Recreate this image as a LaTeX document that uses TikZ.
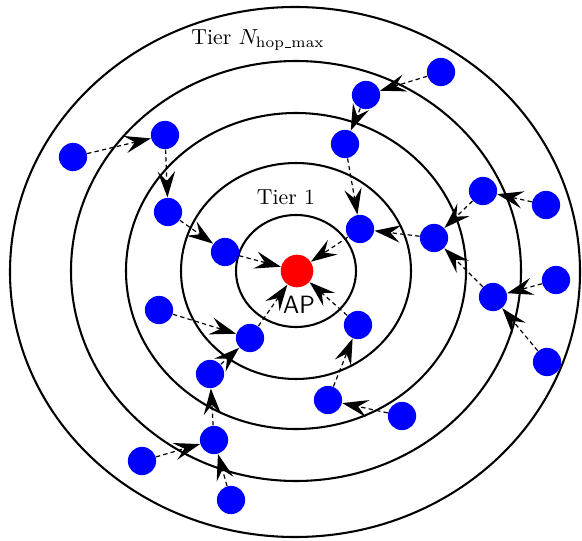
\documentclass[tikz,border=0pt]{standalone}
\usetikzlibrary{arrows.meta}
\begin{document}
\begin{tikzpicture}[x=0.46pt,y=-0.46pt,
  ring/.style={draw,line width=0.95pt},
  user/.style={circle,fill=blue,minimum size=13pt,inner sep=0pt},
  apnode/.style={circle,fill=red,minimum size=15pt,inner sep=0pt},
  link/.style={dash pattern=on 2pt off 1.5pt,line width=0.55pt,-{Stealth[length=12pt,width=8pt,inset=4.5pt]}}]
\useasboundingbox (0,0) rectangle (582,541);
\draw[ring] (296,271) ellipse [x radius=60,y radius=56];
\draw[ring] (296,271) ellipse [x radius=115,y radius=108];
\draw[ring] (296,271) ellipse [x radius=170,y radius=158];
\draw[ring] (296,271) ellipse [x radius=225,y radius=210];
\draw[ring] (295,272) ellipse [x radius=285,y radius=265];
\node at (286,197) {Tier 1};
\node at (258,40) {Tier $N_{\mbox{\scriptsize hop\kern.05em\rule[-.05ex]{.4em}{.05em}\kern.05em max}}$};
\node[apnode] (ap) at (297,271) {};
\node[font=\sffamily\fontsize{11.5}{13}\selectfont] (aplabel) at (299,305) {AP};
\node[user] (n1) at (225,252) {};
\node[user] (n2) at (360,229) {};
\node[user] (n3) at (250,338) {};
\node[user] (n4) at (358,325) {};
\node[user] (n5) at (168,212) {};
\node[user] (n6) at (345,144) {};
\node[user] (n7) at (434,238) {};
\node[user] (n8) at (159,310) {};
\node[user] (n9) at (210,374) {};
\node[user] (n10) at (328,400) {};
\node[user] (n11) at (165,135) {};
\node[user] (n12) at (366,95) {};
\node[user] (n13) at (483,191) {};
\node[user] (n14) at (493,297) {};
\node[user] (n15) at (214,440) {};
\node[user] (n16) at (402,416) {};
\node[user] (n17) at (73,157) {};
\node[user] (n18) at (441,72) {};
\node[user] (n19) at (546,205) {};
\node[user] (n20) at (556,280) {};
\node[user] (n21) at (547,362) {};
\node[user] (n22) at (142,461) {};
\node[user] (n23) at (231,500) {};
\draw[link] (n1) -- (ap);
\draw[link] (n2) -- (ap);
\draw[link] (n3) -- (ap);
\draw[link] (n4) -- (ap);
\draw[link] (n5) -- (n1);
\draw[link] (n6) -- (n2);
\draw[link] (n7) -- (n2);
\draw[link] (n8) -- (n3);
\draw[link] (n9) -- (n3);
\draw[link] (n10) -- (n4);
\draw[link] (n11) -- (n5);
\draw[link] (n12) -- (n6);
\draw[link] (n13) -- (n7);
\draw[link] (n14) -- (n7);
\draw[link] (n15) -- (n9);
\draw[link] (n16) -- (n10);
\draw[link] (n17) -- (n11);
\draw[link] (n18) -- (n12);
\draw[link] (n19) -- (n13);
\draw[link] (n20) -- (n14);
\draw[link] (n21) -- (n14);
\draw[link] (n22) -- (n15);
\draw[link] (n23) -- (n15);
\end{tikzpicture}
\end{document}
